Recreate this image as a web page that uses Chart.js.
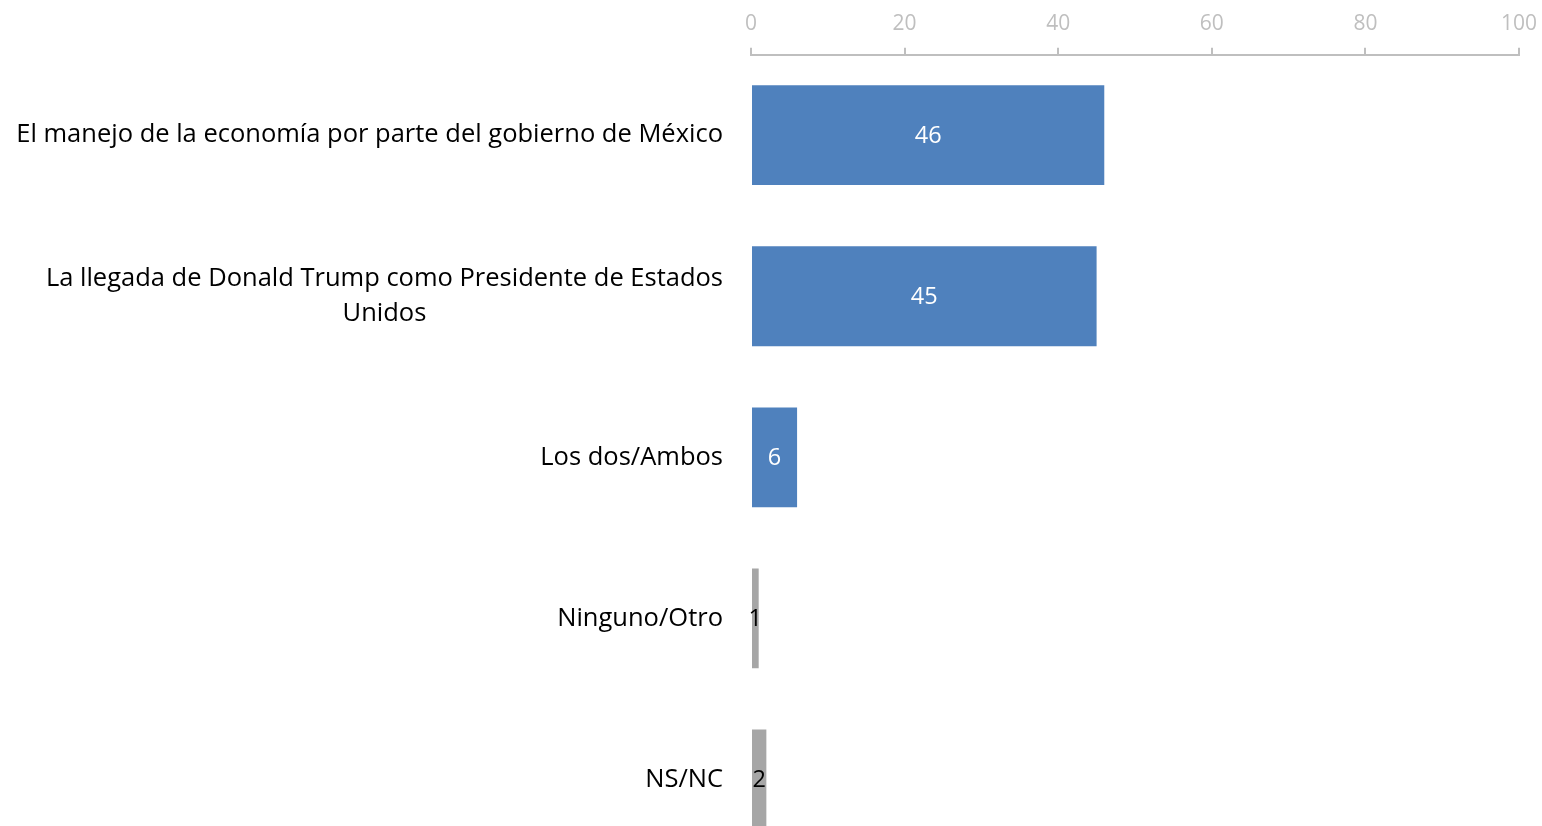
<!DOCTYPE html>
<html>
<head>
<meta charset="utf-8">
<script src="https://cdn.jsdelivr.net/npm/chart.js@4"></script>
<style>
  html, body { margin:0; padding:0; background:#fff; overflow:hidden; }
  #wrap { width:1542px; height:826px; overflow:hidden; }
</style>
</head>
<body>
<div id="wrap"><canvas id="chart" width="1542" height="860"></canvas></div>
<script>
// ---- data ----
const categories = [
  "El manejo de la economía por parte del gobierno de México",
  ["La llegada de Donald Trump como Presidente de Estados", "Unidos"],
  "Los dos/Ambos",
  "Ninguno/Otro",
  "NS/NC"
];
const values = [46, 45, 6, 1, 2];
const xTicks = [0, 20, 40, 60, 80, 100];

const BLUE = "#4F81BD";
const GRAY = "#A6A6A6";
const barColors = [BLUE, BLUE, BLUE, GRAY, GRAY];
const labelColors = ["#FFFFFF", "#FFFFFF", "#FFFFFF", "#000000", "#000000"];
const FONT = "'Open Sans'";

// category labels drawn left of the plot, each block right-aligned, lines centred
const catLabels = {
  id: "catLabels",
  afterDraw(chart) {
    const { ctx, chartArea, scales } = chart;
    ctx.save();
    ctx.font = `25.5px ${FONT}`;
    ctx.fillStyle = "#000";
    ctx.textBaseline = "middle";
    ctx.textAlign = "center";
    const lh = 35;
    categories.forEach((c, i) => {
      const lines = Array.isArray(c) ? c : [c];
      const widest = Math.max(...lines.map(l => ctx.measureText(l).width));
      const cx = chartArea.left - 28 - widest / 2;
      const yc = scales.y.getPixelForValue(i);
      const y0 = yc - (lines.length - 1) * lh / 2;
      lines.forEach((l, j) => ctx.fillText(l, cx, y0 + j * lh));
    });
    ctx.restore();
  }
};

// value labels in the middle of each bar
const valueLabels = {
  id: "valueLabels",
  afterDatasetsDraw(chart) {
    const { ctx } = chart;
    const meta = chart.getDatasetMeta(0);
    ctx.save();
    ctx.font = `23.5px ${FONT}`;
    ctx.textAlign = "center";
    ctx.textBaseline = "middle";
    meta.data.forEach((bar, i) => {
      ctx.fillStyle = labelColors[i];
      ctx.fillText(String(values[i]), (bar.x + bar.base) / 2, bar.y + 1);
    });
    ctx.restore();
  }
};

new Chart(document.getElementById("chart").getContext("2d"), {
  type: "bar",
  data: {
    labels: categories,
    datasets: [{
      data: values,
      backgroundColor: barColors,
      borderWidth: 0,
      categoryPercentage: 1,
      barPercentage: 0.62
    }]
  },
  options: {
    indexAxis: "y",
    responsive: false,
    animation: false,
    layout: { padding: { left: 751, right: 23, top: 0, bottom: 0 } },
    plugins: { legend: { display: false }, tooltip: { enabled: false } },
    scales: {
      x: {
        position: "top",
        min: 0, max: 100,
        afterBuildTicks: s => { s.ticks = xTicks.map(v => ({ value: v })); },
        afterFit: s => { s.paddingLeft = 0; s.paddingRight = 0; },
        ticks: { color: "#BFBFBF", font: { family: FONT, size: 21, lineHeight: 1.03 }, padding: 13 },
        grid: { drawOnChartArea: false, drawTicks: true, tickLength: 7, color: "#BFBFBF", lineWidth: 2 },
        border: { display: true, color: "#BFBFBF", width: 2 }
      },
      y: {
        display: false
      }
    }
  },
  plugins: [catLabels, valueLabels]
});
</script>
</body>
</html>
